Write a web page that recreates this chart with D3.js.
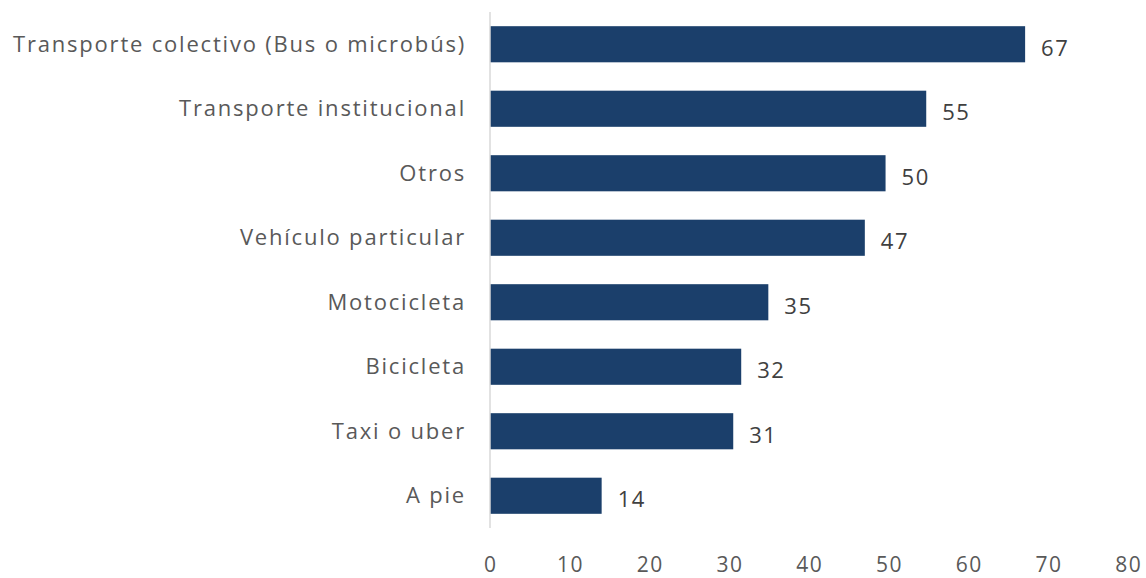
<!DOCTYPE html>
<html>
<head>
<meta charset="utf-8">
<script src="https://cdn.jsdelivr.net/npm/d3@7"></script>
<style>
  body { margin: 0; background: #fff; }
  text { font-family: "Open Sans", "Noto Sans", sans-serif; }
</style>
</head>
<body>
<div id="container"></div>
<script>
// Data
const categories = [
    "Transporte colectivo (Bus o microbús)",
    "Transporte institucional",
    "Otros",
    "Vehículo particular",
    "Motocicleta",
    "Bicicleta",
    "Taxi o uber",
    "A pie"
];
// bar lengths (labels show them rounded)
const values = [67.1, 54.7, 49.6, 47.0, 34.9, 31.5, 30.5, 14.0];
const xTicks = [0, 10, 20, 30, 40, 50, 60, 70, 80];

const data = categories.map((c, i) => ({ cat: c, value: values[i] }));

const width = 1146, height = 578;

const svg = d3.select("#container").append("svg")
    .attr("width", width)
    .attr("height", height);

// Scales
const x = d3.scaleLinear()
    .domain([0, 80])
    .range([490, 1128]);

const y = d3.scaleBand()
    .domain(categories)
    .range([12, 528])
    .paddingInner(0.44)
    .paddingOuter(0.22);

// Bars
svg.selectAll(".bar")
    .data(data)
    .enter().append("rect")
    .attr("class", "bar")
    .attr("x", x(0))
    .attr("y", d => y(d.cat))
    .attr("width", d => x(d.value) - x(0))
    .attr("height", y.bandwidth())
    .attr("fill", "#1b3f6b");

// Vertical axis line
svg.append("line")
    .attr("x1", x(0)).attr("x2", x(0))
    .attr("y1", 12).attr("y2", 528)
    .attr("stroke", "#d9d9d9")
    .attr("stroke-width", 1.5);

// Category labels
svg.selectAll(".cat-label")
    .data(data)
    .enter().append("text")
    .attr("class", "cat-label")
    .attr("x", 466)
    .attr("y", d => y(d.cat) + y.bandwidth() / 2)
    .attr("dy", "0.35em")
    .attr("text-anchor", "end")
    .attr("fill", "#595959")
    .style("font-size", "22px")
    .style("letter-spacing", "1.8px")
    .text(d => d.cat);

// Value labels
svg.selectAll(".val-label")
    .data(data)
    .enter().append("text")
    .attr("class", "val-label")
    .attr("x", d => x(d.value) + 16)
    .attr("y", d => y(d.cat) + y.bandwidth() / 2 + 4)
    .attr("dy", "0.35em")
    .attr("fill", "#404040")
    .style("font-size", "22px")
    .style("letter-spacing", "1.5px")
    .text(d => Math.round(d.value));

// X-axis tick labels
svg.selectAll(".x-tick")
    .data(xTicks)
    .enter().append("text")
    .attr("class", "x-tick")
    .attr("x", d => x(d) + 0.75)
    .attr("y", 572)
    .attr("text-anchor", "middle")
    .attr("fill", "#595959")
    .style("font-size", "21px")
    .style("letter-spacing", "1.5px")
    .text(d => d);
</script>
</body>
</html>
